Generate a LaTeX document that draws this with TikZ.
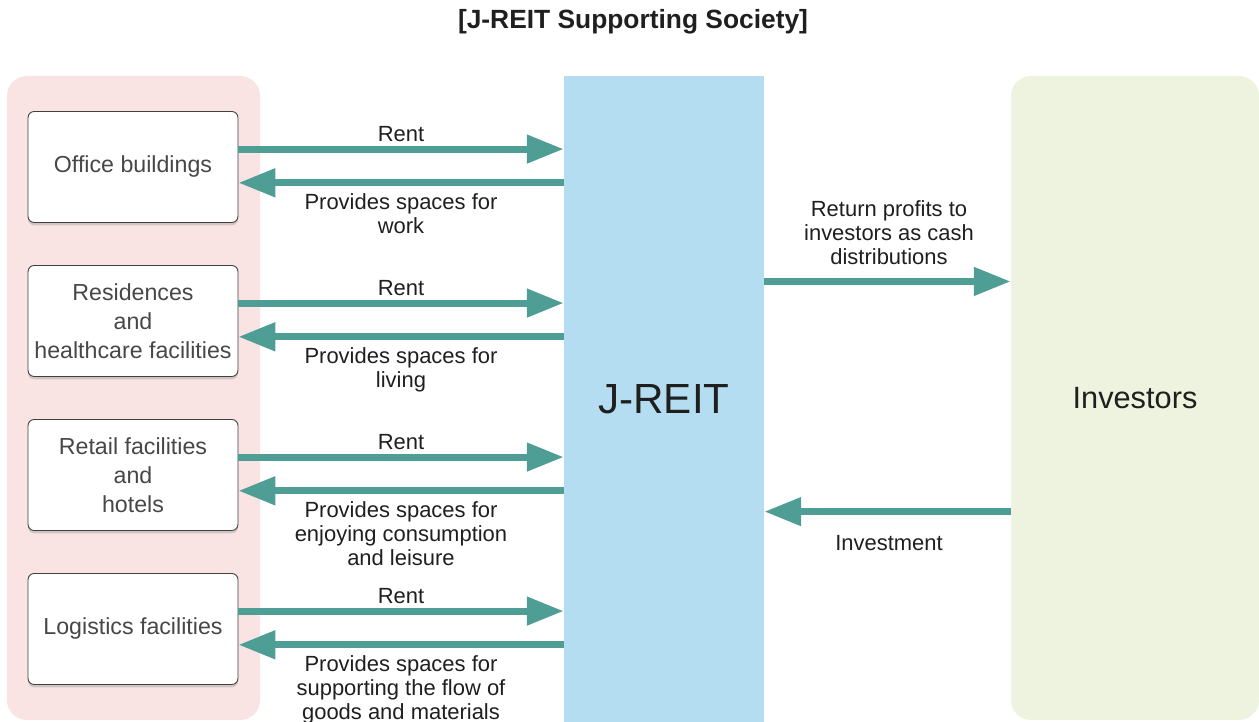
\documentclass[tikz,border=0pt]{standalone}
\usepackage{fontspec}
\setmainfont{Liberation Sans}
\usetikzlibrary{arrows.meta,shadows}
\definecolor{panelpink}{HTML}{F9E3E3}
\definecolor{reitblue}{HTML}{B5DDF1}
\definecolor{invgreen}{HTML}{EEF3E0}
\definecolor{flowteal}{HTML}{4F9E95}
\begin{document}
\begin{tikzpicture}[x=0.02cm,y=0.02cm,
	box/.style={draw=black!75,line width=0.5pt,fill=white,rounded corners=3.5pt,minimum width=4.2cm,minimum height=2.22cm,inner sep=0pt,align=center,text=black!72,font=\fontsize{13.2}{16.4}\selectfont,drop shadow={shadow xshift=0pt,shadow yshift=-1.6pt,fill=black!45,opacity=0.35}},
	flow/.style={flowteal,line width=4pt,-{Triangle[length=21pt,width=15.5pt]}},
	lbl/.style={align=center,text=black!88,font=\fontsize{12.5}{13.6}\selectfont,inner sep=0pt}]
		\useasboundingbox (0,0) rectangle (1259,-722);
		\node [font=\bfseries\fontsize{15}{18}\selectfont,text=black!88] (title) at (633,-22) {[J-REIT Supporting Society]};
		\fill [panelpink,rounded corners=11.3pt] (7,-76) rectangle (260,-720);
		\node [fill=reitblue,minimum width=4cm,minimum height=12.92cm,inner sep=0pt,font=\fontsize{24}{28}\selectfont,text=black!88] (reit) at (664,-399) {J-REIT};
		\node [fill=invgreen,rounded corners=11.3pt,minimum width=4.96cm,minimum height=12.88cm,inner sep=0pt,font=\fontsize{17.5}{21}\selectfont,text=black!88] (investors) at (1135,-398) {Investors};
		\node [box] (office) at (133,-167) {Office buildings};
		\node [box] (residences) at (133,-321) {Residences\\and\\healthcare facilities};
		\node [box] (retail) at (133,-475) {Retail facilities\\and\\hotels};
		\node [box] (logistics) at (133,-629) {Logistics facilities};
		\draw [flow] ([yshift=10.2pt]office.east) -- ([yshift=10.2pt]reit.west |- office.east);
		\draw [flow] ([yshift=-9pt]reit.west |- office.east) -- ([yshift=-9pt]office.east);
		\draw [flow] ([yshift=10.2pt]residences.east) -- ([yshift=10.2pt]reit.west |- residences.east);
		\draw [flow] ([yshift=-9pt]reit.west |- residences.east) -- ([yshift=-9pt]residences.east);
		\draw [flow] ([yshift=10.2pt]retail.east) -- ([yshift=10.2pt]reit.west |- retail.east);
		\draw [flow] ([yshift=-9pt]reit.west |- retail.east) -- ([yshift=-9pt]retail.east);
		\draw [flow] ([yshift=10.2pt]logistics.east) -- ([yshift=10.2pt]reit.west |- logistics.east);
		\draw [flow] ([yshift=-9pt]reit.west |- logistics.east) -- ([yshift=-9pt]logistics.east);
		\draw [flow] ([yshift=66.9pt]reit.east) -- ([yshift=66.9pt]investors.west |- reit.east);
		\draw [flow] ([yshift=-64.1pt]investors.west |- reit.east) -- ([yshift=-64.1pt]reit.east);
		\node [lbl] (rent1) at (401,-134) {Rent};
		\node [lbl,anchor=north] (space1) at (401,-193) {Provides spaces for\\work};
		\node [lbl] (rent2) at (401,-288) {Rent};
		\node [lbl,anchor=north] (space2) at (401,-347) {Provides spaces for\\living};
		\node [lbl] (rent3) at (401,-442) {Rent};
		\node [lbl,anchor=north] (space3) at (401,-501) {Provides spaces for\\enjoying consumption\\and leisure};
		\node [lbl] (rent4) at (401,-596) {Rent};
		\node [lbl,anchor=north] (space4) at (401,-655) {Provides spaces for\\supporting the flow of\\goods and materials};
		\node [lbl,anchor=north] (profits) at (889,-200) {Return profits to\\investors as cash\\distributions};
		\node [lbl] (invest) at (889,-543) {Investment};
	\end{tikzpicture}
\end{document}
